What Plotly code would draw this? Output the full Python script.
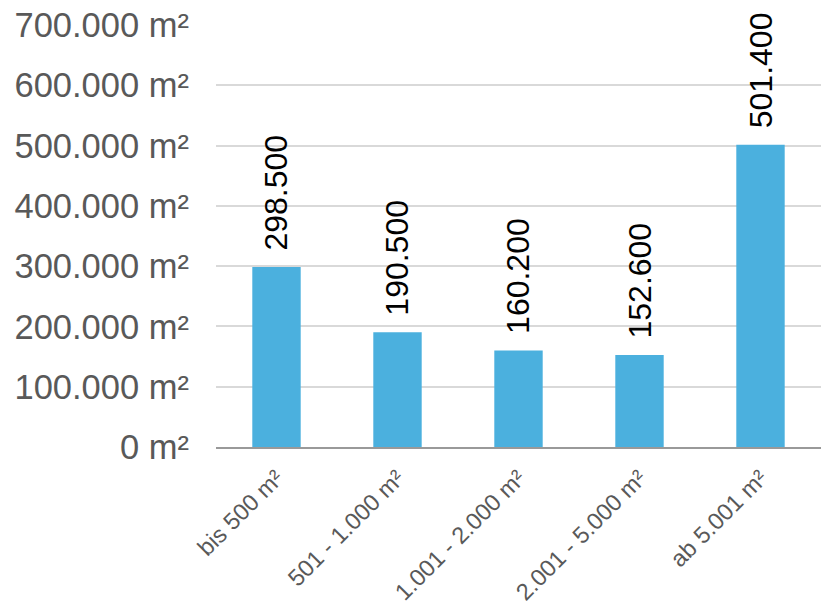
import plotly.graph_objects as go

categories = ["bis 500 m²", "501 - 1.000 m²", "1.001 - 2.000 m²", "2.001 - 5.000 m²", "ab 5.001 m²"]
values = [298500, 190500, 160200, 152600, 501400]
tick_values = [0, 100000, 200000, 300000, 400000, 500000, 600000, 700000]
tick_labels = ["0 m²", "100.000 m²", "200.000 m²", "300.000 m²", "400.000 m²",
               "500.000 m²", "600.000 m²", "700.000 m²"]
value_labels = ["298.500", "190.500", "160.200", "152.600", "501.400"]

FONT = "Liberation Sans, Arial, sans-serif"

fig = go.Figure()
fig.add_trace(go.Bar(
    x=categories, y=values,
    marker=dict(color="#4bb0de", line=dict(width=0)),
    hoverinfo="skip",
))

for c, v, t in zip(categories, values, value_labels):
    fig.add_annotation(
        x=c, y=v, text=t, textangle=-90, showarrow=False,
        xanchor="center", yanchor="bottom", yshift=14,
        font=dict(family=FONT, size=32, color="#000000"),
    )

fig.update_layout(
    width=821, height=601,
    margin=dict(l=216, r=0, t=25, b=154),
    paper_bgcolor="white", plot_bgcolor="white",
    bargap=0.6,
    showlegend=False,
    font=dict(family=FONT, color="#595959"),
    xaxis=dict(
        tickangle=-45,
        tickfont=dict(size=23.5, color="#595959"),
        showline=True, linecolor="#999999", linewidth=2,
        showgrid=False, ticks="",
        ticklabelstandoff=6,
        automargin=False,
    ),
    yaxis=dict(
        range=[0, 700000],
        tickvals=tick_values, ticktext=tick_labels,
        tickfont=dict(size=34.5, color="#595959"),
        showgrid=True, gridcolor="#d9d9d9", gridwidth=1.5,
        zeroline=False, showline=False, ticks="",
        ticklabelstandoff=26,
        automargin=False,
    ),
)

fig.write_html("out.html")
